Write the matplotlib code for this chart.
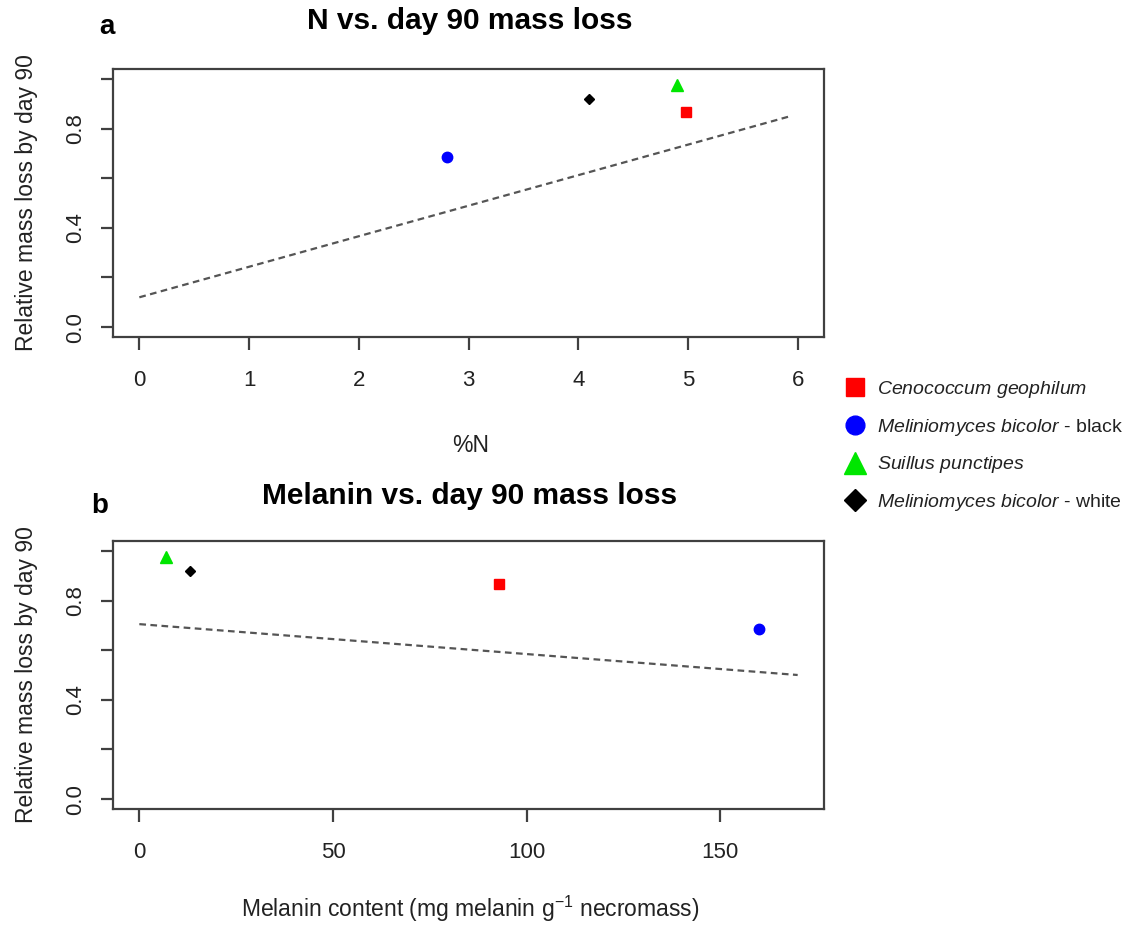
import matplotlib
matplotlib.use("Agg")
import matplotlib.pyplot as plt
from matplotlib.lines import Line2D

plt.rcParams['font.family'] = ['Liberation Sans', 'DejaVu Sans']
plt.rcParams['mathtext.fontset'] = 'custom'
plt.rcParams['mathtext.rm'] = 'Liberation Sans'
plt.rcParams['mathtext.it'] = 'Liberation Sans:italic'

# data
species = ['Cenococcum geophilum', 'Meliniomyces bicolor - black',
           'Suillus punctipes', 'Meliniomyces bicolor - white']
legend_labels = [r'$\mathit{Cenococcum\ geophilum}$',
                 r'$\mathit{Meliniomyces\ bicolor}$ - black',
                 r'$\mathit{Suillus\ punctipes}$',
                 r'$\mathit{Meliniomyces\ bicolor}$ - white']
colors = ['#ff0000', '#0000ff', '#00e600', '#000000']
markers = ['s', 'o', '^', 'D']
mass_loss = [0.865, 0.685, 0.975, 0.92]
pct_n = [4.98, 2.8, 4.9, 4.1]
melanin = [93, 160, 7, 13]

# fitted lines
fit_n_x = [0, 5.95]
fit_n_y = [0.12, 0.852]
fit_mel_x = [0, 170]
fit_mel_y = [0.705, 0.50]

W, H = 1138, 925
fig = plt.figure(figsize=(W / 100, H / 100), dpi=100)


def fx(x):
    return x / W


def fy(y):
    return 1 - y / H


plot_ms = [7, 7.5, 9, 5]
legend_ms = [13, 13.5, 16, 11]
box_col = '#404040'
txt_col = '#222222'


def panel(top, xs, line_x, line_y, xlim, xticks):
    ax = fig.add_axes([fx(113), fy(top + 268), 711 / W, 268 / H])
    ax.plot(line_x, line_y, color='#555555', lw=1.6, ls=(0, (3, 2)))
    for x, y, c, m, s in zip(xs, mass_loss, colors, markers, plot_ms):
        ax.plot(x, y, marker=m, color=c, ms=s, ls='none', mec=c)
    ax.set_xlim(*xlim)
    ax.set_ylim(-0.04, 1.04)
    ax.set_xticks(xticks)
    ax.set_xticklabels([str(t) for t in xticks])
    ax.set_yticks([0, 0.2, 0.4, 0.6, 0.8, 1.0])
    ax.set_yticklabels(['0.0', '', '0.4', '', '0.8', ''], rotation=90, va='center')
    for sp in ax.spines.values():
        sp.set_color(box_col)
        sp.set_linewidth(1.6)
    ax.tick_params(axis='both', length=9, width=1.6, color=box_col,
                   labelsize=16, labelcolor=txt_col)
    ax.tick_params(axis='x', pad=15)
    ax.tick_params(axis='y', pad=10)
    return ax


ax1 = panel(69, pct_n, fit_n_x, fit_n_y, (-0.24, 6.24), [0, 1, 2, 3, 4, 5, 6])
ax2 = panel(541, melanin, fit_mel_x, fit_mel_y, (-6.8, 176.8), [0, 50, 100, 150])

# titles and labels
fig.text(fx(107), fy(27), 'a', fontsize=20, fontweight='bold', ha='center', va='center')
fig.text(fx(470), fy(21), 'N vs. day 90 mass loss', fontsize=21.5, fontweight='bold',
         ha='center', va='center')
fig.text(fx(100), fy(506), 'b', fontsize=20, fontweight='bold', ha='center', va='center')
fig.text(fx(470), fy(496), 'Melanin vs. day 90 mass loss', fontsize=21.5,
         fontweight='bold', ha='center', va='center')
for yc in (203, 675):
    fig.text(fx(27), fy(yc), 'Relative mass loss by day 90', fontsize=16.5,
             rotation=90, ha='center', va='center', color=txt_col)
fig.text(fx(471), fy(446), '%N', fontsize=16.5, ha='center', va='center', color=txt_col)
fig.text(fx(470), fy(909), 'Melanin content (mg melanin g$^{-1}$ necromass)',
         fontsize=16.5, ha='center', va='center', color=txt_col)

# legend
handles = [Line2D([], [], marker=m, color=c, mec=c, ms=s, ls='none')
           for m, c, s in zip(markers, colors, legend_ms)]
fig.legend(handles, legend_labels, loc='upper left',
           bbox_to_anchor=(fx(843), fy(379)), frameon=False,
           fontsize=14, labelspacing=0.86, handletextpad=0.57,
           handlelength=1.2, borderaxespad=0, borderpad=0,
           labelcolor=txt_col)

fig.savefig('out.png', dpi=100)
